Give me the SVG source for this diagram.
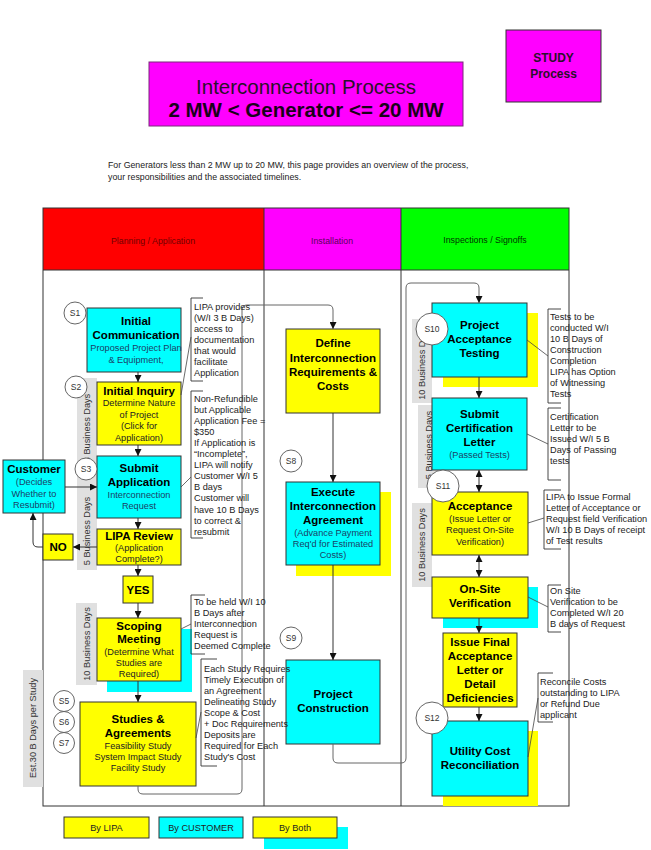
<svg xmlns="http://www.w3.org/2000/svg" width="651" height="850" viewBox="0 0 651 850">
<defs>
<style>
text{font-family:"Liberation Sans",Arial,sans-serif}
.bx{stroke:#333;stroke-width:1}
.y{fill:#ffff00}.c{fill:#00ffff}.m{fill:#ff00ff}
.t{font-weight:bold;font-size:11.5px;text-anchor:middle;fill:#000}
.s{font-size:9.2px;text-anchor:middle;fill:#1b3f66}
.sy{font-size:9.2px;text-anchor:middle;fill:#222}
.n{font-size:9.2px;fill:#222}
.bar{fill:#e0e0e0}
.bt{font-size:9.2px;text-anchor:middle;fill:#333}
.ci{fill:#fff;stroke:#555;stroke-width:0.9}
.ct{font-size:8.5px;text-anchor:middle;fill:#333}
.cn{stroke:#333;stroke-width:1;fill:none}
.cg{stroke:#666;stroke-width:1;fill:none}
.br{stroke:#333;stroke-width:0.9;fill:none}
.ld{stroke:#444;stroke-width:0.8;fill:none}
.hd{font-size:8.8px;text-anchor:middle}
.lg{font-size:9.2px;text-anchor:middle;fill:#222}
</style>
<marker id="ah" viewBox="0 0 8 8" refX="8" refY="4" markerWidth="7" markerHeight="7" markerUnits="userSpaceOnUse" orient="auto-start-reverse">
<path d="M0,0 L8,4 L0,8 z" fill="#111"/>
</marker>
</defs>
<rect width="651" height="850" fill="#fff"/>

<g id="title">
<rect x="149" y="62" width="314" height="64" class="m" stroke="#7a2a7a" stroke-width="1"/>
<text x="306" y="94" font-size="20.5" text-anchor="middle" fill="#2a102a">Interconnection Process</text>
<text x="306" y="117" font-size="20.5" font-weight="bold" text-anchor="middle" fill="#1a001a">2 MW &lt; Generator &lt;= 20 MW</text>
</g>
<g id="study">
<rect x="506" y="30" width="95" height="72" class="m" stroke="#333" stroke-width="1"/>
<text x="553.5" y="62" font-size="12" font-weight="bold" text-anchor="middle" fill="#2a102a">STUDY</text>
<text x="553.5" y="78" font-size="12" font-weight="bold" text-anchor="middle" fill="#2a102a">Process</text>
</g>
<g id="intro">
<text x="108" y="168" font-size="8.8" fill="#222">For Generators less than 2 MW up to 20 MW, this page provides an overview of the process,</text>
<text x="108" y="180" font-size="8.8" fill="#222">your responsibilities and the associated timelines.</text>
</g>

<g id="lanes">
<rect x="43" y="208" width="221" height="62" fill="#ff0000"/>
<rect x="264" y="208" width="137" height="62" fill="#ff00ff"/>
<rect x="401" y="208" width="168" height="62" fill="#00ff00"/>
<rect x="43" y="208" width="526" height="598" fill="none" stroke="#333" stroke-width="1"/>
<line x1="43" y1="270" x2="569" y2="270" stroke="#333"/>
<line x1="264" y1="208" x2="264" y2="806" stroke="#333"/>
<line x1="401" y1="208" x2="401" y2="806" stroke="#333"/>
<text x="153" y="244" class="hd" fill="#700000">Planning / Application</text>
<text x="332" y="244" class="hd" fill="#5a005a">Installation</text>
<text x="485" y="243" class="hd" fill="#003300">Inspections / Signoffs</text>
</g>

<g id="bars">
<rect x="77" y="378" width="20" height="98" class="bar"/>
<rect x="77" y="476" width="20" height="94" class="bar"/>
<rect x="76" y="603" width="21" height="82" class="bar"/>
<rect x="23" y="670" width="20" height="117" class="bar"/>
<rect x="412" y="319" width="20" height="84" class="bar"/>
<rect x="418" y="405" width="21" height="83" class="bar"/>
<rect x="412" y="503" width="20" height="84" class="bar"/>
<text transform="translate(87,428) rotate(-90)" y="3.3" class="bt">3 Business Days</text>
<text transform="translate(87,531) rotate(-90)" y="3.3" class="bt">5 Business Days</text>
<text transform="translate(86.5,644) rotate(-90)" y="3.3" class="bt">10 Business Days</text>
<text transform="translate(33,728) rotate(-90)" y="3.3" class="bt">Est.30 B Days per Study</text>
<text transform="translate(422,363) rotate(-90)" y="3.3" class="bt">10 Business Days</text>
<text transform="translate(428.5,445) rotate(-90)" y="3.3" class="bt">5 Business Days</text>
<text transform="translate(422,545) rotate(-90)" y="3.3" class="bt">10 Business Days</text>
</g>

<g id="initial-communication">
<rect x="87" y="308" width="94" height="64" class="c bx"/>
<text x="136" y="325" class="t">Initial</text>
<text x="136" y="339" class="t">Communication</text>
<text x="136" y="351" class="s">Proposed Project Plan</text>
<text x="136" y="363" class="s">&amp; Equipment,</text>
</g>
<g id="initial-inquiry">
<rect x="97" y="382" width="84" height="63" class="y bx"/>
<text x="139" y="395" class="t">Initial Inquiry</text>
<text x="139" y="406" class="sy">Determine Nature</text>
<text x="139" y="418" class="sy">of Project</text>
<text x="139" y="429" class="sy">(Click for</text>
<text x="139" y="441" class="sy">Application)</text>
</g>
<g id="submit-application">
<rect x="97" y="456" width="84" height="62" class="c bx"/>
<text x="139" y="472" class="t">Submit</text>
<text x="139" y="486" class="t">Application</text>
<text x="139" y="498" class="s">Interconnection</text>
<text x="139" y="509" class="s">Request</text>
</g>
<g id="lipa-review">
<rect x="97" y="529" width="84" height="36" class="y bx"/>
<text x="139" y="540" class="t">LIPA Review</text>
<text x="139" y="551" class="sy">(Application</text>
<text x="139" y="562" class="sy">Complete?)</text>
</g>
<g id="yes">
<rect x="123" y="576" width="30" height="27" class="y bx"/>
<text x="138" y="594" class="t">YES</text>
</g>
<g id="no">
<rect x="43" y="534" width="30" height="26" class="y bx"/>
<text x="58" y="551" class="t">NO</text>
</g>
<g id="customer">
<rect x="3" y="460" width="62" height="53" class="c bx"/>
<text x="34" y="473" class="t">Customer</text>
<text x="34" y="485" class="s">(Decides</text>
<text x="34" y="497" class="s">Whether to</text>
<text x="34" y="508" class="s">Resubmit)</text>
</g>
<g id="scoping-meeting">
<rect x="107" y="629" width="85" height="63" class="c"/>
<rect x="97" y="618" width="84" height="63" class="y bx"/>
<text x="139" y="630" class="t">Scoping</text>
<text x="139" y="643" class="t">Meeting</text>
<text x="139" y="655" class="sy">(Determine What</text>
<text x="139" y="666" class="sy">Studies are</text>
<text x="139" y="677" class="sy">Required)</text>
</g>
<g id="studies-agreements">
<rect x="80" y="702" width="116" height="84" class="y bx"/>
<text x="138" y="723" class="t">Studies &amp;</text>
<text x="138" y="737" class="t">Agreements</text>
<text x="138" y="749" class="sy">Feasibility Study</text>
<text x="138" y="760" class="sy">System Impact Study</text>
<text x="138" y="771" class="sy">Facility Study</text>
</g>

<g id="define-requirements">
<rect x="286" y="329" width="94" height="84" class="y bx"/>
<text x="333" y="347" class="t">Define</text>
<text x="333" y="362" class="t">Interconnection</text>
<text x="333" y="376" class="t">Requirements &amp;</text>
<text x="333" y="390" class="t">Costs</text>
</g>
<g id="execute-agreement">
<rect x="296" y="492" width="95" height="84" class="y"/>
<rect x="286" y="482" width="94" height="83" class="c bx"/>
<text x="333" y="496" class="t">Execute</text>
<text x="333" y="510" class="t">Interconnection</text>
<text x="333" y="524" class="t">Agreement</text>
<text x="333" y="536" class="s">(Advance Payment</text>
<text x="333" y="547" class="s">Req'd for Estimated</text>
<text x="333" y="558" class="s">Costs)</text>
</g>
<g id="project-construction">
<rect x="286" y="660" width="94" height="84" class="c bx"/>
<text x="333" y="698" class="t">Project</text>
<text x="333" y="712" class="t">Construction</text>
</g>

<g id="acceptance-testing">
<rect x="443" y="313" width="95" height="74" class="y"/>
<rect x="432" y="303" width="95" height="74" class="c bx"/>
<text x="479.5" y="329" class="t">Project</text>
<text x="479.5" y="343" class="t">Acceptance</text>
<text x="479.5" y="357" class="t">Testing</text>
</g>
<g id="certification-letter">
<rect x="432" y="398" width="95" height="72" class="c bx"/>
<text x="479.5" y="418" class="t">Submit</text>
<text x="479.5" y="432" class="t">Certification</text>
<text x="479.5" y="446" class="t">Letter</text>
<text x="479.5" y="458" class="s">(Passed Tests)</text>
</g>
<g id="acceptance">
<rect x="432" y="492" width="96" height="63" class="y bx"/>
<text x="480" y="510" class="t">Acceptance</text>
<text x="480" y="522" class="sy">(Issue Letter or</text>
<text x="480" y="533" class="sy">Request On-Site</text>
<text x="480" y="545" class="sy">Verification)</text>
</g>
<g id="onsite-verification">
<rect x="443" y="587" width="95" height="41" class="c"/>
<rect x="432" y="577" width="96" height="41" class="y bx"/>
<text x="480" y="593" class="t">On-Site</text>
<text x="480" y="607" class="t">Verification</text>
</g>
<g id="final-acceptance">
<rect x="443" y="633" width="74" height="74" class="y bx"/>
<text x="480" y="646" class="t">Issue Final</text>
<text x="480" y="660" class="t">Acceptance</text>
<text x="480" y="674" class="t">Letter or</text>
<text x="480" y="688" class="t">Detail</text>
<text x="480" y="702" class="t">Deficiencies</text>
</g>
<g id="cost-reconciliation">
<rect x="443" y="731" width="95" height="75" class="y"/>
<rect x="432" y="721" width="96" height="75" class="c bx"/>
<text x="480" y="755" class="t">Utility Cost</text>
<text x="480" y="769" class="t">Reconciliation</text>
</g>

<g id="connectors">
<line x1="138" y1="372" x2="138" y2="382" class="cn" marker-end="url(#ah)"/>
<line x1="138" y1="445" x2="138" y2="456" class="cn" marker-end="url(#ah)"/>
<line x1="138" y1="518" x2="138" y2="529" class="cn" marker-end="url(#ah)"/>
<line x1="138" y1="565" x2="138" y2="576" class="cn" marker-end="url(#ah)"/>
<line x1="138" y1="603" x2="138" y2="618" class="cn" marker-end="url(#ah)"/>
<line x1="138" y1="681" x2="138" y2="702" class="cn" marker-end="url(#ah)"/>
<line x1="65" y1="487" x2="97" y2="487" class="cn" marker-end="url(#ah)"/>
<line x1="97" y1="547" x2="73" y2="547" class="cn" marker-end="url(#ah)"/>
<path d="M43,547 H38 Q33,547 33,542 V513" class="cn" marker-end="url(#ah)"/>
<path d="M138,786 V789 Q138,794 143,794 H237 Q242,794 242,789 V310 Q242,305 247,305 H328 Q333,305 333,310 V329" class="cg" marker-end="url(#ah)"/>
<line x1="333" y1="413" x2="333" y2="482" class="cn" marker-end="url(#ah)"/>
<line x1="333" y1="565" x2="333" y2="660" class="cn" marker-end="url(#ah)"/>
<path d="M333,744 V758 Q333,763 338,763 H401 Q406,763 406,758 V288 Q406,283 411,283 H474 Q479,283 479,288 V303" class="cg" marker-end="url(#ah)"/>
<line x1="479" y1="377" x2="479" y2="398" class="cn" marker-end="url(#ah)"/>
<line x1="479" y1="470" x2="479" y2="492" class="cn" marker-start="url(#ah)" marker-end="url(#ah)"/>
<line x1="479" y1="555" x2="479" y2="577" class="cn" marker-start="url(#ah)" marker-end="url(#ah)"/>
<line x1="479" y1="618" x2="479" y2="633" class="cn" marker-end="url(#ah)"/>
<line x1="479" y1="707" x2="479" y2="721" class="cn" marker-end="url(#ah)"/>
</g>

<g id="steps">
<circle cx="75" cy="313" r="11" class="ci"/><text x="75" y="316" class="ct">S1</text>
<circle cx="76" cy="387" r="11" class="ci"/><text x="76" y="390" class="ct">S2</text>
<circle cx="86" cy="469" r="11" class="ci"/><text x="86" y="472" class="ct">S3</text>
<circle cx="64" cy="701" r="10.5" class="ci"/><text x="64" y="704" class="ct">S5</text>
<circle cx="64" cy="722" r="10.5" class="ci"/><text x="64" y="725" class="ct">S6</text>
<circle cx="64" cy="743" r="10.5" class="ci"/><text x="64" y="746" class="ct">S7</text>
<circle cx="291" cy="461" r="11" class="ci"/><text x="291" y="464" class="ct">S8</text>
<circle cx="291" cy="638" r="11" class="ci"/><text x="291" y="641" class="ct">S9</text>
<circle cx="432" cy="329" r="16" class="ci"/><text x="432" y="332" class="ct">S10</text>
<circle cx="443" cy="486" r="16" class="ci"/><text x="443" y="489" class="ct">S11</text>
<circle cx="432" cy="718" r="16" class="ci"/><text x="432" y="721" class="ct">S12</text>
</g>

<g id="notes">
<path d="M203,298 H191 V381 H203" class="br"/>
<line x1="191" y1="337" x2="181" y2="395" class="ld"/>
<text x="194" class="n"><tspan x="194" y="309.5">LIPA provides</tspan><tspan x="194" dy="11.1">(W/I 3 B Days)</tspan><tspan x="194" dy="11.1">access to</tspan><tspan x="194" dy="11.1">documentation</tspan><tspan x="194" dy="11.1">that would</tspan><tspan x="194" dy="11.1">facilitate</tspan><tspan x="194" dy="11.1">Application</tspan></text>

<path d="M203,391 H191 V538 H203" class="br"/>
<line x1="191" y1="477" x2="181" y2="487" class="ld"/>
<text class="n"><tspan x="194" y="401.5">Non-Refundible</tspan><tspan x="194" dy="11.1">but Applicable</tspan><tspan x="194" dy="11.1">Application Fee =</tspan><tspan x="194" dy="11.1">$350</tspan><tspan x="194" dy="11.1">If Application is</tspan><tspan x="194" dy="11.1">“Incomplete”,</tspan><tspan x="194" dy="11.1">LIPA will notify</tspan><tspan x="194" dy="11.1">Customer W/I  5</tspan><tspan x="194" dy="11.1">B days</tspan><tspan x="194" dy="11.1">Customer will</tspan><tspan x="194" dy="11.1">have 10 B Days</tspan><tspan x="194" dy="11.1">to correct &amp;</tspan><tspan x="194" dy="11.1">resubmit</tspan></text>

<path d="M205,595 H191 V654 H205" class="br"/>
<line x1="191" y1="624" x2="181" y2="629" class="ld"/>
<text class="n"><tspan x="194" y="604.5">To be held W/I 10</tspan><tspan x="194" dy="11.1">B Days after</tspan><tspan x="194" dy="11.1">Interconnection</tspan><tspan x="194" dy="11.1">Request is</tspan><tspan x="194" dy="11.1">Deemed Complete</tspan></text>

<path d="M217,659 H201 V766 H217" class="br"/>
<line x1="201" y1="712" x2="196" y2="738" class="ld"/>
<text class="n"><tspan x="204" y="671.5">Each Study Requires</tspan><tspan x="204" dy="11.1">Timely Execution of</tspan><tspan x="204" dy="11.1">an Agreement</tspan><tspan x="204" dy="11.1">Delineating Study</tspan><tspan x="204" dy="11.1">Scope &amp; Cost</tspan><tspan x="204" dy="11.1">+ Doc Requirements</tspan><tspan x="204" dy="11.1">Deposits are</tspan><tspan x="204" dy="11.1">Required for Each</tspan><tspan x="204" dy="11.1">Study's Cost</tspan></text>

<path d="M561,309 H548 V403 H561" class="br"/>
<line x1="527" y1="340" x2="548" y2="356" class="ld"/>
<text class="n"><tspan x="550" y="319.5">Tests to be</tspan><tspan x="550" dy="11.1">conducted W/I</tspan><tspan x="550" dy="11.1">10 B Days of</tspan><tspan x="550" dy="11.1">Construction</tspan><tspan x="550" dy="11.1">Completion</tspan><tspan x="550" dy="11.1">LIPA has Option</tspan><tspan x="550" dy="11.1">of Witnessing</tspan><tspan x="550" dy="11.1">Tests</tspan></text>

<path d="M561,408 H548 V480 H561" class="br"/>
<line x1="527" y1="434" x2="548" y2="444" class="ld"/>
<text class="n"><tspan x="550" y="420">Certification</tspan><tspan x="550" dy="11.1">Letter to be</tspan><tspan x="550" dy="11.1">Issued W/I 5 B</tspan><tspan x="550" dy="11.1">Days of Passing</tspan><tspan x="550" dy="11.1">tests</tspan></text>

<path d="M561,490 H544 V549 H561" class="br"/>
<line x1="528" y1="523" x2="544" y2="518" class="ld"/>
<text class="n"><tspan x="546" y="499.5">LIPA to Issue Formal</tspan><tspan x="546" dy="11.1">Letter of Acceptance or</tspan><tspan x="546" dy="11.1">Request field Verification</tspan><tspan x="546" dy="11.1">W/I 10 B Days of receipt</tspan><tspan x="546" dy="11.1">of Test results</tspan></text>

<path d="M561,585 H548 V632 H561" class="br"/>
<line x1="528" y1="597" x2="548" y2="607" class="ld"/>
<text class="n"><tspan x="550" y="593.5">On Site</tspan><tspan x="550" dy="11.2">Verification to be</tspan><tspan x="550" dy="11.2">Completed W/I 20</tspan><tspan x="550" dy="11.2">B days of Request</tspan></text>

<path d="M553,673 H538 V722 H553" class="br"/>
<line x1="538" y1="698" x2="528" y2="757" class="ld"/>
<text class="n"><tspan x="540" y="684.5">Reconcile Costs</tspan><tspan x="540" dy="11.1">outstanding to LIPA</tspan><tspan x="540" dy="11.1">or Refund Due</tspan><tspan x="540" dy="11.1">applicant</tspan></text>
</g>

<g id="legend">
<rect x="64" y="817" width="85" height="21" class="y bx"/>
<text x="106.5" y="830.5" class="lg">By LIPA</text>
<rect x="159" y="817" width="84" height="21" class="c bx"/>
<text x="201" y="830.5" class="lg">By CUSTOMER</text>
<rect x="264" y="827" width="84" height="22" class="c"/>
<rect x="253" y="817" width="84" height="21" class="y bx"/>
<text x="295" y="830.5" class="lg">By Both</text>
</g>
</svg>
